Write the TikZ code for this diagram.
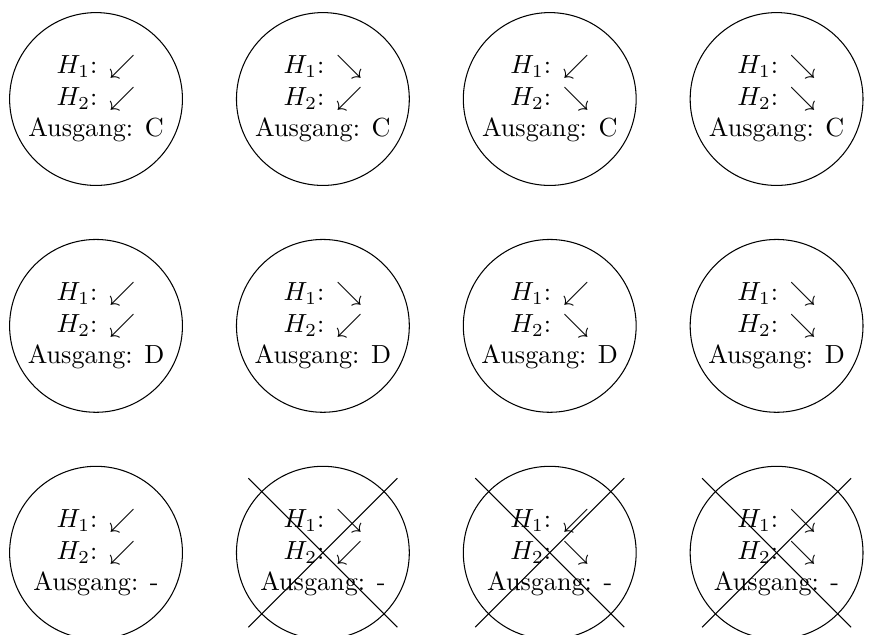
\documentclass[tikz,border=0pt]{standalone}
\begin{document}
\begin{tikzpicture}[
    outcome/.style={draw,circle,minimum size=2.32cm,inner sep=0pt,align=center}
  ]
    % Frame
    \useasboundingbox (-1.289,1.329) rectangle (10.550,-7.194);

    % Outcome C
    \node[outcome] (C1) at (0,0)         {$H_1$: $\swarrow$\\ $H_2$: $\swarrow$\\ Ausgang: C};
    \node[outcome] (C2) at (3.045,0)     {$H_1$: $\searrow$\\ $H_2$: $\swarrow$\\ Ausgang: C};
    \node[outcome] (C3) at (6.090,0)     {$H_1$: $\swarrow$\\ $H_2$: $\searrow$\\ Ausgang: C};
    \node[outcome] (C4) at (9.135,0)     {$H_1$: $\searrow$\\ $H_2$: $\searrow$\\ Ausgang: C};

    % Outcome D
    \node[outcome] (D1) at (0,-3.045)     {$H_1$: $\swarrow$\\ $H_2$: $\swarrow$\\ Ausgang: D};
    \node[outcome] (D2) at (3.045,-3.045) {$H_1$: $\searrow$\\ $H_2$: $\swarrow$\\ Ausgang: D};
    \node[outcome] (D3) at (6.090,-3.045) {$H_1$: $\swarrow$\\ $H_2$: $\searrow$\\ Ausgang: D};
    \node[outcome] (D4) at (9.135,-3.045) {$H_1$: $\searrow$\\ $H_2$: $\searrow$\\ Ausgang: D};

    % No outcome
    \node[outcome] (N1) at (0,-6.090)     {$H_1$: $\swarrow$\\ $H_2$: $\swarrow$\\ Ausgang: -};
    \node[outcome] (N2) at (3.045,-6.090) {$H_1$: $\searrow$\\ $H_2$: $\swarrow$\\ Ausgang: -};
    \node[outcome] (N3) at (6.090,-6.090) {$H_1$: $\swarrow$\\ $H_2$: $\searrow$\\ Ausgang: -};
    \node[outcome] (N4) at (9.135,-6.090) {$H_1$: $\searrow$\\ $H_2$: $\searrow$\\ Ausgang: -};

    % Crossed out
    \draw (N2.center) ++(-1,1) -- ++(2,-2);
    \draw (N2.center) ++(1,1) -- ++(-2,-2);
    \draw (N3.center) ++(-1,1) -- ++(2,-2);
    \draw (N3.center) ++(1,1) -- ++(-2,-2);
    \draw (N4.center) ++(-1,1) -- ++(2,-2);
    \draw (N4.center) ++(1,1) -- ++(-2,-2);
\end{tikzpicture}
\end{document}
